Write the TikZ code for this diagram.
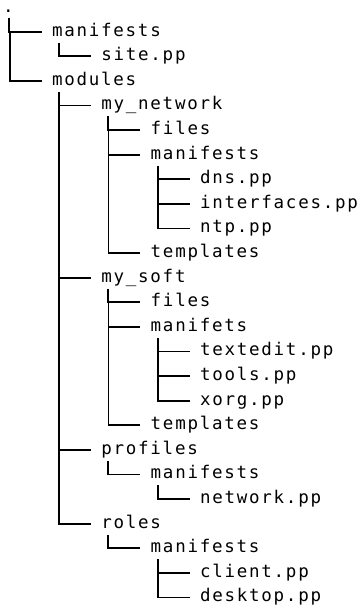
\documentclass[tikz,border=0pt]{standalone}
\usepackage{fontspec}
\newfontfamily\treefont[LetterSpace=10]{DejaVu Sans Mono}
\tikzset{
  item/.style={anchor=base west, inner sep=0pt, outer sep=0pt, font=\treefont\fontsize{17.5}{21}\selectfont, text=black},
  branch/.style={line width=1.8pt, draw=black},
}
% first child: from the parent down and across
\newcommand\tedge[2]{\draw[branch] ([xshift=7pt,yshift=-6.5pt]#1.base west) |- ([xshift=-10.5pt,yshift=4.5pt]#2.base west);}
% next child: continue the vertical from the previous sibling's branch
\newcommand\tnext[2]{\draw[branch] ([xshift=-42.3pt,yshift=4.5pt]#1.base west) |- ([xshift=-10.5pt,yshift=4.5pt]#2.base west);}
\begin{document}
\begin{tikzpicture}[x=1pt,y=-1pt]
\useasboundingbox[fill=white] (0,0) rectangle (364,605);
\def\LA{3.2}\def\LB{52}\def\LC{101.3}\def\LD{150.7}\def\LE{200}
\node[item, text height=3pt, text depth=0pt] (root) at (\LA,12.5) {.};
\node[item] (a)    at (\LB,{11.5+24.6*1}) {manifests};
\node[item] (a1)   at (\LC,{11.5+24.6*2}) {site.pp};
\node[item] (b)    at (\LB,{11.5+24.6*3}) {modules};
\node[item] (b1)   at (\LC,{11.5+24.6*4}) {my\_network};
\node[item] (b1a)  at (\LD,{11.5+24.6*5}) {files};
\node[item] (b1b)  at (\LD,{11.5+24.6*6}) {manifests};
\node[item] (b1b1) at (\LE,{11.5+24.6*7}) {dns.pp};
\node[item] (b1b2) at (\LE,{11.5+24.6*8}) {interfaces.pp};
\node[item] (b1b3) at (\LE,{11.5+24.6*9}) {ntp.pp};
\node[item] (b1c)  at (\LD,{11.5+24.6*10}) {templates};
\node[item] (b2)   at (\LC,{11.5+24.6*11}) {my\_soft};
\node[item] (b2a)  at (\LD,{11.5+24.6*12}) {files};
\node[item] (b2b)  at (\LD,{11.5+24.6*13}) {manifets};
\node[item] (b2b1) at (\LE,{11.5+24.6*14}) {textedit.pp};
\node[item] (b2b2) at (\LE,{11.5+24.6*15}) {tools.pp};
\node[item] (b2b3) at (\LE,{11.5+24.6*16}) {xorg.pp};
\node[item] (b2c)  at (\LD,{11.5+24.6*17}) {templates};
\node[item] (b3)   at (\LC,{11.5+24.6*18}) {profiles};
\node[item] (b3a)  at (\LD,{11.5+24.6*19}) {manifests};
\node[item] (b3a1) at (\LE,{11.5+24.6*20}) {network.pp};
\node[item] (b4)   at (\LC,{11.5+24.6*21}) {roles};
\node[item] (b4a)  at (\LD,{11.5+24.6*22}) {manifests};
\node[item] (b4a1) at (\LE,{11.5+24.6*23}) {client.pp};
\node[item] (b4a2) at (\LE,{11.5+24.6*24}) {desktop.pp};
\draw[branch] ([xshift=5.8pt,yshift=-5pt]root.base west) |- ([xshift=-10.5pt,yshift=4.5pt]a.base west);
\tnext{a}{b}
\tedge{a}{a1}
\tedge{b}{b1}\tnext{b1}{b2}\tnext{b2}{b3}\tnext{b3}{b4}
\tedge{b1}{b1a}\tnext{b1a}{b1b}\tnext{b1b}{b1c}
\tedge{b1b}{b1b1}\tnext{b1b1}{b1b2}\tnext{b1b2}{b1b3}
\tedge{b2}{b2a}\tnext{b2a}{b2b}\tnext{b2b}{b2c}
\tedge{b2b}{b2b1}\tnext{b2b1}{b2b2}\tnext{b2b2}{b2b3}
\tedge{b3}{b3a}\tedge{b3a}{b3a1}
\tedge{b4}{b4a}\tedge{b4a}{b4a1}\tnext{b4a1}{b4a2}
\end{tikzpicture}
\end{document}
